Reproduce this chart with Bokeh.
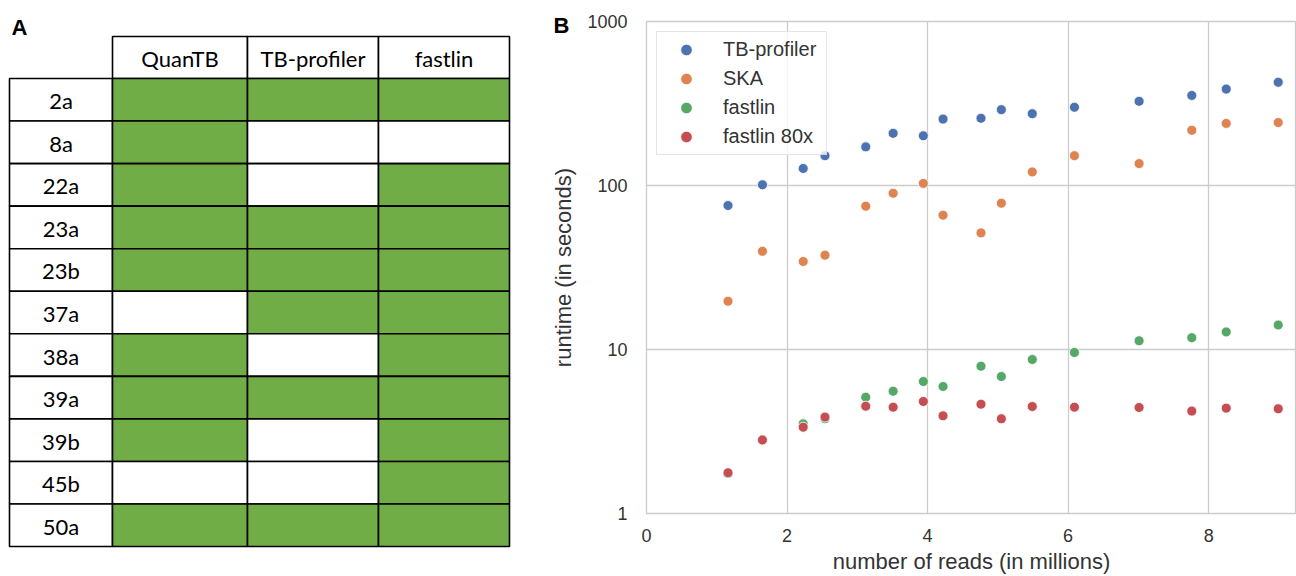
from bokeh.plotting import figure
from bokeh.layouts import row, column
from bokeh.models import ColumnDataSource, Label, Range1d, FixedTicker, NumeralTickFormatter
from bokeh.core.properties import value
from bokeh.embed import file_html
from bokeh.resources import INLINE

# ---------------- data ----------------
samples = ["2a", "8a", "22a", "23a", "23b", "37a", "38a", "39a", "39b", "45b", "50a"]
tools = ["QuanTB", "TB-profiler", "fastlin"]
det_quantb = [1, 1, 1, 1, 1, 0, 1, 1, 1, 0, 1]
det_tbprofiler = [1, 0, 0, 1, 1, 1, 0, 1, 0, 0, 1]
det_fastlin = [1, 0, 1, 1, 1, 1, 1, 1, 1, 1, 1]

reads_millions = [1.16, 1.65, 2.23, 2.54, 3.12, 3.51, 3.94, 4.22, 4.76, 5.05, 5.49, 6.09, 7.01, 7.76, 8.25, 8.99]
rt_tbprofiler = [75.5, 101, 127, 152, 172, 208, 201, 254, 257, 290, 274, 300, 326, 354, 387, 426]
rt_ska = [19.7, 39.7, 34.4, 37.6, 74.8, 89.7, 103, 65.9, 51.4, 78, 121, 152, 136, 217, 239, 242]
rt_fastlin = [1.75, 2.8, 3.52, 3.78, 5.12, 5.57, 6.38, 5.95, 7.91, 6.84, 8.69, 9.59, 11.3, 11.8, 12.8, 14.1]
rt_fastlin80 = [1.77, 2.81, 3.36, 3.87, 4.51, 4.45, 4.82, 3.94, 4.64, 3.78, 4.49, 4.45, 4.43, 4.21, 4.39, 4.35]

series_names = ["TB-profiler", "SKA", "fastlin", "fastlin 80x"]
series_values = [rt_tbprofiler, rt_ska, rt_fastlin, rt_fastlin80]
series_colors = ["#4C72B0", "#DD8452", "#55A868", "#C44E52"]

# ---------------- layout constants (panel A) ----------------
A_W, A_H = 540, 576
table_left = 9
col_widths = [103, 135, 131, 131]
header_top = 36
header_h = 42
row_h = 42.55
GREEN = "#70AD47"
TABLE_FONT = "Lato"

col_edges = [table_left]
for w in col_widths:
    col_edges.append(col_edges[-1] + w)

pa = figure(width=A_W, height=A_H, x_range=Range1d(0, A_W), y_range=Range1d(A_H, 0),
            x_axis_type=None, y_axis_type=None, output_backend="svg", toolbar_location=None,
            min_border=0)
pa.grid.visible = False
pa.outline_line_color = None
pa.background_fill_color = "white"
pa.border_fill_color = "white"

detections = [det_quantb, det_tbprofiler, det_fastlin]

hl, hr, ht, hb = [], [], [], []
for j in range(len(tools)):
    hl.append(col_edges[j + 1]); hr.append(col_edges[j + 2])
    ht.append(header_top); hb.append(header_top + header_h)
pa.quad(left=hl, right=hr, top=ht, bottom=hb, fill_color="white", line_color="black", line_width=1.6)

ql, qr, qt, qb, qc = [], [], [], [], []
body_top = header_top + header_h
for i, s in enumerate(samples):
    top = body_top + i * row_h
    bot = top + row_h
    ql.append(col_edges[0]); qr.append(col_edges[1]); qt.append(top); qb.append(bot); qc.append("white")
    for j in range(len(tools)):
        ql.append(col_edges[j + 1]); qr.append(col_edges[j + 2]); qt.append(top); qb.append(bot)
        qc.append(GREEN if detections[j][i] else "white")
pa.quad(source=ColumnDataSource(dict(l=ql, r=qr, t=qt, b=qb, c=qc)),
        left="l", right="r", top="t", bottom="b", fill_color="c", line_color="black", line_width=1.6)

pa.text(x=[(col_edges[j + 1] + col_edges[j + 2]) / 2 for j in range(len(tools))],
        y=[header_top + header_h / 2 + 1] * len(tools), text=tools,
        text_font=value(TABLE_FONT), text_font_size="22px", text_color="black",
        text_align="center", text_baseline="middle")
pa.text(x=[(col_edges[0] + col_edges[1]) / 2] * len(samples),
        y=[body_top + (i + 0.5) * row_h + 1 for i in range(len(samples))], text=samples,
        text_font=value(TABLE_FONT), text_font_size="22px", text_color="black",
        text_align="center", text_baseline="middle")

pa.add_layout(Label(x=19, y=27, text="A", text_font="Liberation Sans", text_font_size="22px",
                    text_font_style="bold", text_color="black", text_align="center",
                    text_baseline="middle"))

# ---------------- panel B ----------------
FONT = "Liberation Sans"
TXT = "#333333"
GRID = "#cccccc"

pb = figure(width=756, height=576, y_axis_type="log",
            x_range=Range1d(0, 9.25), y_range=Range1d(1, 1000),
            output_backend="svg", toolbar_location=None,
            min_border_left=106, min_border_right=0, min_border_top=21, min_border_bottom=63)
pb.background_fill_color = "white"
pb.border_fill_color = "white"
pb.outline_line_color = GRID
pb.outline_line_width = 1.3

for name, vals, col in zip(series_names, series_values, series_colors):
    pb.scatter(reads_millions, vals, size=10, fill_color=col, line_color="white",
               line_width=0.8, legend_label=name)

pb.xaxis.ticker = FixedTicker(ticks=[0, 2, 4, 6, 8])
pb.yaxis.ticker = FixedTicker(ticks=[1, 10, 100, 1000])
pb.yaxis.formatter = NumeralTickFormatter(format="0")
for ax in (pb.xaxis[0], pb.yaxis[0]):
    ax.axis_line_color = None
    ax.major_tick_line_color = None
    ax.minor_tick_line_color = None
    ax.major_tick_out = 0
    ax.major_tick_in = 0
    ax.minor_tick_out = 0
    ax.minor_tick_in = 0
    ax.major_label_text_font = FONT
    ax.major_label_text_font_size = "18px"
    ax.major_label_text_color = TXT
    ax.axis_label_text_font = FONT
    ax.axis_label_text_font_size = "22px"
    ax.axis_label_text_font_style = "normal"
    ax.axis_label_text_color = TXT
pb.xaxis.axis_label = "number of reads (in millions)"
pb.yaxis.axis_label = "runtime (in seconds)"
pb.xaxis.major_label_standoff = 15
pb.xaxis.axis_label_standoff = 4
pb.yaxis.major_label_standoff = 19
pb.yaxis.axis_label_standoff = 8

pb.xgrid.grid_line_color = GRID
pb.ygrid.grid_line_color = GRID
pb.xgrid.grid_line_width = 1.3
pb.ygrid.grid_line_width = 1.3

lg = pb.legend[0]
lg.location = "top_left"
lg.margin = 10
lg.padding = 3
lg.spacing = 0
lg.glyph_width = 52
lg.glyph_height = 29
lg.label_height = 29
lg.label_width = 100
lg.label_standoff = 11
lg.label_text_font = FONT
lg.label_text_font_size = "20px"
lg.label_text_color = TXT
lg.border_line_color = GRID
lg.border_line_width = 1
lg.background_fill_color = "white"
lg.background_fill_alpha = 0.8

# panel letter "B" as the figure title, pulled into the left border
pb.title.text = "B"
pb.title.align = "left"
pb.title.offset = -93
pb.title.standoff = -32
pb.title.text_font = FONT
pb.title.text_font_size = "22px"
pb.title.text_font_style = "bold"
pb.title.text_color = "black"

layout = row(column(pa), pb)
with open("out.html", "w") as f:
    f.write(file_html(layout, INLINE))
